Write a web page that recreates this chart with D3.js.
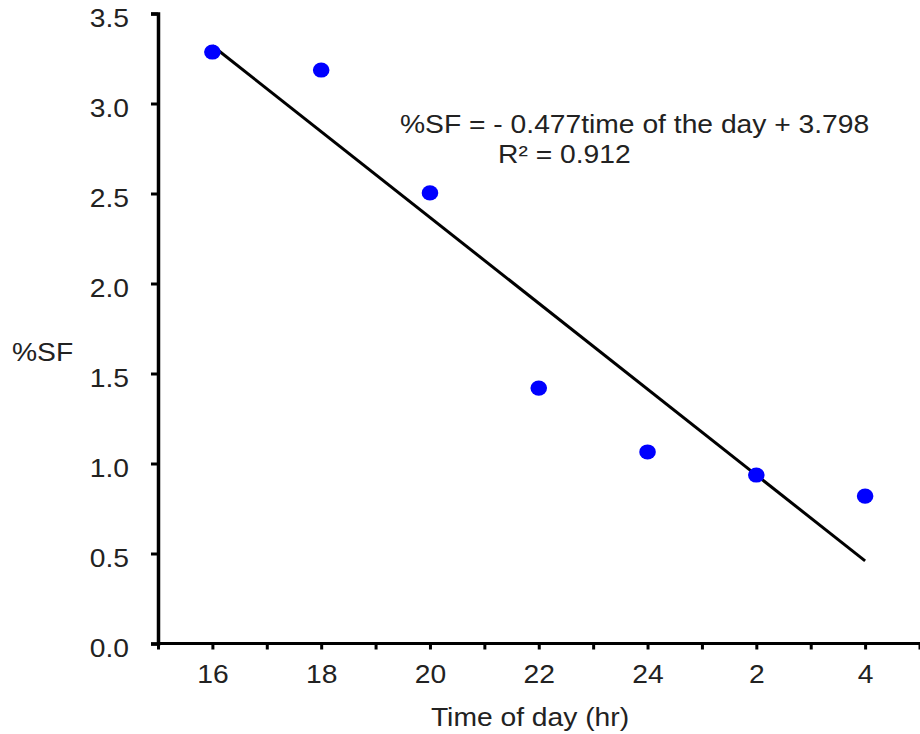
<!DOCTYPE html>
<html>
<head>
<meta charset="utf-8">
<script src="https://cdn.jsdelivr.net/npm/d3@7"></script>
<style>
  html, body { margin: 0; padding: 0; background: #fff; }
  svg text { font-family: "Liberation Sans", Arial, sans-serif; fill: #222; }
</style>
</head>
<body>
<svg id="chart" width="920" height="734"></svg>
<script>
const categories = ["16", "18", "20", "22", "24", "2", "4"];
const sfValues = [3.286, 3.186, 2.503, 1.419, 1.064, 0.936, 0.819];
const yTicks = [0.0, 0.5, 1.0, 1.5, 2.0, 2.5, 3.0, 3.5];
const trendSlope = -0.477;
const trendIntercept = 3.798;
const equationText = "%SF = - 0.477time of the day + 3.798";
const r2Text = "R\u00b2 = 0.912";
const xTitle = "Time of day (hr)";
const yTitle = "%SF";

const svg = d3.select("#chart");
const mLeft = 158, mRight = 919.5, mTop = 13.5, mBottom = 643.5;
const sx = 1.13; // horizontal text stretch
const fs = 25;

const x = d3.scaleLinear().domain([0.5, categories.length + 0.5]).range([mLeft, mRight]);
const y = d3.scaleLinear().domain([0, 3.5]).range([mBottom, mTop]);

function stretch(sel, ax, ay) {
  sel.attr("transform", `translate(${ax},${ay}) scale(${sx},1)`).attr("x", 0).attr("y", 0);
}

// Y axis
const yAxis = d3.axisLeft(y).tickValues(yTicks).tickFormat(d3.format(".1f")).tickSize(7).tickPadding(6);
const gy = svg.append("g").attr("transform", `translate(${mLeft},0)`).call(yAxis);
gy.select(".domain").attr("stroke", "#000").attr("stroke-width", 3.5);
gy.selectAll(".tick line").attr("stroke", "#000").attr("stroke-width", 3);
gy.selectAll(".tick text").each(function() {
  const t = d3.select(this);
  t.attr("font-size", fs).attr("dy", null).attr("text-anchor", "end");
  stretch(t, -29, 13);
});

// X axis: ticks at category centers and boundaries
const halfTicks = d3.range(0.5, categories.length + 0.51, 0.5);
const xAxis = d3.axisBottom(x).tickValues(halfTicks).tickSize(6).tickPadding(8)
  .tickFormat(d => Number.isInteger(d) ? categories[d - 1] : "");
const gx = svg.append("g").attr("transform", `translate(0,${mBottom})`).call(xAxis);
gx.select(".domain").attr("stroke", "#000").attr("stroke-width", 3).attr("d", `M${mLeft},0H${mRight + 2}`);
gx.selectAll(".tick line").attr("stroke", "#000").attr("stroke-width", 3);
gx.selectAll(".tick text").each(function() {
  const t = d3.select(this);
  t.attr("font-size", fs).attr("dy", null).attr("text-anchor", "middle");
  stretch(t, 0, 39.5);
});

// Trend line
const line = d3.line().x(d => x(d)).y(d => y(trendSlope * d + trendIntercept));
svg.append("path").datum([1, categories.length]).attr("d", line)
  .attr("fill", "none").attr("stroke", "#000").attr("stroke-width", 3);

// Points
svg.selectAll("ellipse.pt").data(sfValues).enter().append("ellipse").attr("class", "pt")
  .attr("cx", (d, i) => x(i + 1)).attr("cy", d => y(d))
  .attr("rx", 8.3).attr("ry", 7.6).attr("fill", "#0000ff");

// Equation
const eq = svg.append("text").attr("font-size", fs).text(equationText);
stretch(eq, 400, 133);
const r2 = svg.append("text").attr("font-size", fs).text(r2Text);
stretch(r2, 498, 163);

// Axis titles
const xt = svg.append("text").attr("font-size", fs).attr("text-anchor", "middle").text(xTitle);
stretch(xt, 530, 726);
const yt = svg.append("text").attr("font-size", fs).text(yTitle);
stretch(yt, 12, 361);
</script>
</body>
</html>
